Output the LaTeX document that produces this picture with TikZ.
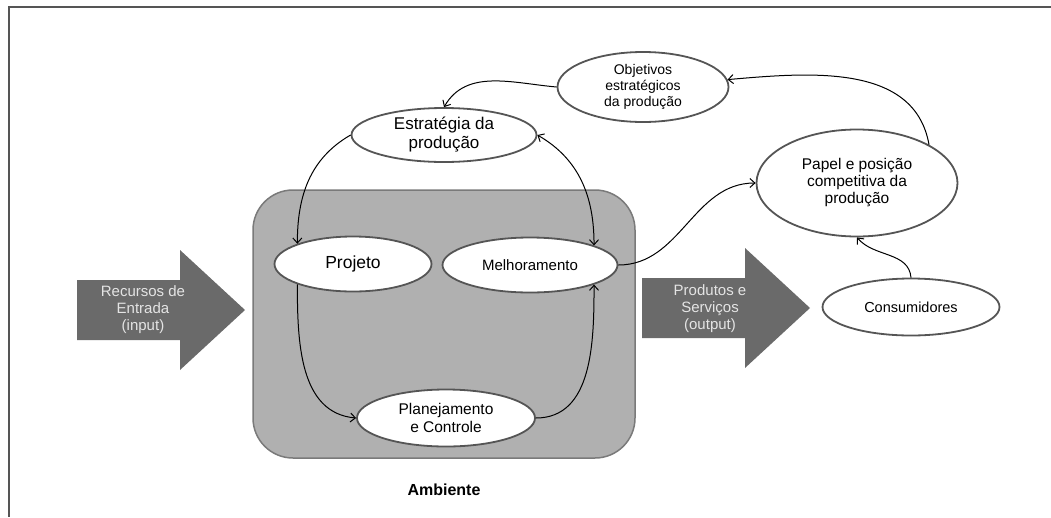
\documentclass[tikz,border=0pt]{standalone}
\usepackage{fontspec}
\setmainfont{Liberation Sans}
\usetikzlibrary{arrows.meta, shapes.geometric, positioning}
\definecolor{rimgray}{HTML}{555555}
\definecolor{boxgray}{HTML}{B0B0B0}
\definecolor{boxrim}{HTML}{7A7A7A}
\definecolor{arrowgray}{HTML}{6A6A6A}
\definecolor{paletext}{HTML}{E4E4E4}
\tikzset{
>={Straight Barb[length=5pt,width=9pt]}, % thin open arrow heads
bubble/.style={ellipse, draw=rimgray, line width=1.8pt, fill=white, inner sep=0pt, align=center},
envbox/.style={rectangle, rounded corners=40pt, draw=boxrim, line width=1.5pt, fill=boxgray},
bigarrow/.style={fill=arrowgray},
arrowtext/.style={text=paletext, align=center, font=\fontsize{15}{17}\selectfont},
link/.style={->, line width=1pt},
}

\begin{document}
\begin{tikzpicture}[x=1pt,y=-1pt]
  \useasboundingbox (0,0) rectangle (1051,517);
  \draw[rimgray, line width=2pt] (1051,7) -- (9,7) -- (9,517);

  % environment box and the flows through it
  \node[envbox, minimum width=382pt, minimum height=268pt] (amb) at (444,324) {};
  \node[font=\bfseries\fontsize{16}{18}\selectfont, below=22pt of amb] (ambl) {Ambiente};
  \fill[bigarrow] (77,280) -- (180,280) -- (180,250) -- (245,310) -- (180,370) -- (180,340) -- (77,340) -- cycle;
  \node[arrowtext] (inp) at (143,310) {Recursos de\\Entrada\\(input)};
  \fill[bigarrow] (642,278) -- (745,278) -- (745,248) -- (810,308) -- (745,368) -- (745,338) -- (642,338) -- cycle;
  \node[arrowtext] (outp) at (710,309) {Produtos e\\Serviços\\(output)};

  \node[bubble, minimum width=171pt, minimum height=70pt, font=\fontsize{14}{16}\selectfont] (obj) at (643,87) {Objetivos\\estratégicos\\da produção};
  \node[bubble, minimum width=185pt, minimum height=54pt, font=\fontsize{17}{19}\selectfont] (estr) at (444,135) {Estratégia da\\produção};
  \node[bubble, minimum width=157pt, minimum height=55pt, font=\fontsize{17.5}{19}\selectfont] (proj) at (353,264) {Projeto};
  \node[bubble, minimum width=175pt, minimum height=55pt, font=\fontsize{15}{17}\selectfont] (melh) at (530,265) {Melhoramento};
  \node[bubble, minimum width=178pt, minimum height=57pt, font=\fontsize{15.5}{18}\selectfont] (plan) at (446,418) {Planejamento\\e Controle};
  \node[bubble, minimum width=201pt, minimum height=107pt, font=\fontsize{15.5}{17}\selectfont] (papel) at (857,183) {Papel e posição\\competitiva da\\produção};
  \node[bubble, minimum width=177pt, minimum height=57pt, font=\fontsize{14.5}{17}\selectfont] (cons) at (911,307) {Consumidores};

  \path[link]
  (obj.west) edge[out=175,in=60] (estr.north)
  (papel.28) edge[out=100,in=5] (obj.5)
  (estr.west) edge[out=210,in=90] (proj.160)
  (estr.east) edge[<->,out=-30,in=90] (melh.17)
  (proj.200) edge[out=-90,in=175] (plan.west)
  (plan.east) edge[out=0,in=-90] (melh.-17)
  (melh.east) edge[out=0,in=180] (papel.west)
  (cons.north) edge[out=95,in=-50] (papel.south);
\end{tikzpicture}
\end{document}
